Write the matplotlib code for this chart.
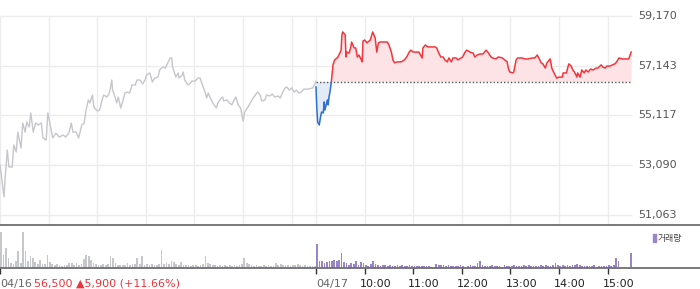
import matplotlib
matplotlib.use('Agg')
import matplotlib.pyplot as plt
from matplotlib.patches import Rectangle
import matplotlib.transforms as mtransforms
import numpy as np

# ---------------- data ----------------
SESSION = 390  # minutes per trading day (09:00-15:30)
base_price = 56500  # 04/16 close

prev_min = [0, 2, 5, 6, 9, 11, 15, 17, 20, 22,
            26, 28, 31, 33, 36, 38, 41, 44, 47, 51,
            53, 57, 59, 62, 65, 69, 73, 78, 81, 85,
            88, 90, 94, 97, 101, 104, 106, 109, 111, 114,
            116, 120, 123, 126, 128, 132, 135, 138, 139, 142,
            144, 146, 149, 152, 154, 157, 160, 163, 167, 169,
            173, 176, 179, 181, 185, 188, 191, 195, 197, 201,
            204, 207, 210, 212, 213, 217, 220, 221, 225, 226,
            228, 232, 234, 237, 241, 244, 247, 249, 253, 255,
            257, 259, 262, 264, 267, 269, 273, 275, 276, 280,
            283, 286, 289, 291, 294, 297, 300, 302, 306, 309,
            311, 315, 318, 321, 323, 327, 329, 333, 336, 339,
            343, 346, 349, 352, 354, 357, 360, 363, 366, 369,
            373, 375, 380, 386, 389, 390]
prev_price = [53100, 52570, 51800, 52400, 53710, 53020, 53020, 53910, 53630, 54440,
              53790, 54810, 54440, 54850, 54650, 55220, 54440, 54810, 54730, 54810,
              54200, 54120, 55220, 54730, 54200, 54400, 54240, 54320, 54240, 54400,
              54810, 54440, 54440, 54200, 54730, 54810, 55300, 55750, 55630, 55950,
              55460, 55300, 55340, 55750, 55950, 55870, 56030, 56560, 56150, 55870,
              55630, 55870, 55420, 55750, 56030, 56070, 56030, 56360, 56360, 56560,
              56560, 56400, 56560, 56770, 56850, 56480, 56640, 56680, 56970, 57090,
              57050, 57260, 57460, 57460, 57090, 56680, 56850, 56640, 56770, 56890,
              56560, 56360, 56400, 56520, 56520, 56640, 56640, 56440, 56070, 55830,
              56030, 55870, 55670, 55550, 55420, 55630, 55830, 55870, 55710, 55750,
              55630, 55550, 55750, 55870, 55550, 55420, 54890, 55260, 55460, 55630,
              55750, 55950, 56070, 55950, 55710, 55750, 55950, 55910, 55990, 55870,
              55910, 55830, 56070, 56240, 56280, 56150, 56240, 56070, 56150, 56030,
              56110, 56190, 56190, 56240, 56440, 56500]

today_min = [0, 1, 2, 4, 6, 7, 9, 10, 11, 14,
             15, 16, 17, 19, 20, 21, 23, 26, 27, 30,
             31, 32, 33, 36, 37, 38, 41, 43, 44, 47,
             49, 51, 53, 56, 57, 58, 60, 63, 64, 67,
             69, 70, 73, 75, 77, 79, 83, 88, 90, 93,
             95, 97, 100, 105, 109, 112, 115, 117, 120, 125,
             127, 131, 132, 135, 138, 143, 147, 149, 151, 154,
             157, 159, 162, 164, 167, 169, 173, 175, 179, 181,
             184, 186, 190, 194, 196, 199, 202, 206, 210, 212,
             216, 218, 222, 225, 230, 233, 236, 237, 239, 243,
             244, 247, 249, 254, 258, 262, 267, 270, 273, 275,
             278, 280, 283, 285, 289, 291, 292, 295, 297, 300,
             304, 305, 309, 310, 312, 315, 317, 319, 322, 323,
             326, 328, 331, 333, 336, 339, 342, 346, 348, 352,
             354, 357, 359, 363, 366, 369, 371, 374, 378, 381,
             386, 389]
today_price = [56280, 55420, 54850, 54730, 55140, 55260, 55220, 55670, 55340, 55750,
               55550, 55870, 56030, 56500, 56850, 57180, 57380, 57460, 57500, 57700,
               57780, 58400, 58520, 58400, 57500, 57700, 57660, 57910, 58110, 57870,
               57870, 57500, 57580, 57380, 57300, 58150, 58190, 58070, 58110, 58190,
               58400, 58520, 58270, 57700, 58070, 58110, 58110, 58110, 57990, 57700,
               57380, 57260, 57300, 57300, 57380, 57500, 57700, 57780, 57700, 57700,
               57700, 57460, 57870, 57990, 57910, 57910, 57910, 57870, 57700, 57500,
               57500, 57380, 57300, 57460, 57300, 57460, 57460, 57380, 57460, 57500,
               57700, 57780, 57700, 57660, 57500, 57580, 57620, 57620, 57780, 57700,
               57500, 57460, 57420, 57500, 57460, 57380, 57300, 57090, 56890, 56850,
               56890, 57380, 57460, 57460, 57420, 57420, 57460, 57460, 57580, 57460,
               57260, 57220, 57050, 57260, 57420, 57050, 56970, 56770, 56640, 56680,
               56680, 56850, 56850, 56970, 57220, 57130, 56970, 56890, 56680, 56850,
               56680, 56970, 56850, 56970, 56890, 57010, 56970, 57050, 57050, 57180,
               57090, 57050, 57130, 57130, 57180, 57220, 57300, 57460, 57420, 57420,
               57420, 57700]

# volume (thousand shares) per 3-minute bucket
VOL_BUCKET = 3
prev_vol = [36, 13, 20, 10, 5, 4, 7, 17, 5, 36,
            17, 7, 12, 10, 6, 4, 8, 4, 4, 13,
            6, 4, 3, 4, 3, 2, 3, 3, 5, 5,
            3, 5, 3, 4, 9, 13, 12, 8, 5, 4,
            3, 3, 4, 3, 4, 12, 10, 5, 3, 3,
            3, 3, 5, 3, 4, 4, 10, 4, 12, 3,
            4, 3, 4, 3, 3, 4, 18, 4, 5, 4,
            7, 6, 4, 3, 6, 3, 3, 3, 2, 3,
            3, 2, 3, 4, 12, 5, 4, 3, 3, 2,
            3, 2, 3, 2, 3, 2, 3, 2, 3, 4,
            10, 5, 4, 3, 2, 3, 2, 2, 3, 2,
            3, 2, 2, 5, 3, 4, 3, 3, 3, 2,
            3, 3, 4, 3, 2, 3, 2, 2, 2, 2]
today_vol = [24, 7, 7, 5, 6, 7, 7, 8, 7, 8,
             15, 6, 5, 3, 5, 4, 7, 3, 6, 5,
             3, 2, 4, 7, 4, 3, 2, 3, 3, 2,
             3, 2, 2, 3, 2, 3, 2, 2, 3, 2,
             2, 2, 2, 2, 2, 2, 2, 1, 1, 4,
             3, 3, 3, 2, 3, 2, 2, 2, 2, 3,
             2, 1, 2, 3, 2, 2, 5, 7, 3, 2,
             2, 2, 3, 2, 2, 2, 1, 3, 2, 2,
             2, 3, 2, 2, 2, 3, 2, 3, 2, 2,
             2, 2, 3, 2, 3, 2, 2, 3, 5, 3,
             2, 3, 2, 3, 2, 3, 3, 4, 3, 2,
             2, 2, 2, 2, 3, 1, 2, 2, 2, 2,
             3, 2, 3, 10, 7, 0, 0, 0, 0, 15]

price_ticks = [51063, 53090, 55117, 57143, 59170]
time_labels = ["10:00", "11:00", "12:00", "13:00", "14:00", "15:00"]
date_labels = ["04/16", "04/17"]
change_text = "56,500 \u25b25,900 (+11.66%)"
volume_label = "거래량"

# ---------------- styling ----------------
W, H = 700, 289
C_GRID = '#ececec'
C_GRAY_LINE = '#c6c6cb'
C_RED = '#f2353c'
C_BLUE = '#2d6fd2'
C_PINK_FILL = '#fde3e5'
C_BLUE_FILL = '#e3ebf8'
C_VOL_GRAY = '#c6c7cb'
C_VOL_PURPLE = '#9985c7'

plt.rcParams['font.family'] = ['DejaVu Sans', 'Noto Sans CJK KR']

fig = plt.figure(figsize=(W / 100, H / 100), dpi=100)
fig.patch.set_facecolor('white')


def fx(px):
    return px / W


def fy(py):
    return 1 - py / H


PLOT_RIGHT_PX = 632
XMAX = 2 * SESSION * W / PLOT_RIGHT_PX
px_per_price = 49.75 / 2026.75
y_top = price_ticks[-1] + 2 / px_per_price
y_bot = price_ticks[-1] - (225 - 16) / px_per_price

ax = fig.add_axes([0, fy(225), 1, fy(14) - fy(225)])
axv = fig.add_axes([0, fy(268), 1, fy(225) - fy(268)])

ax.set_xlim(0, XMAX)
ax.set_ylim(y_bot, y_top)
ax.set_axis_off()

prev_x = np.array(prev_min, dtype=float)
prev_y = np.array(prev_price, dtype=float)
tx = SESSION + np.array(today_min, dtype=float)
ty = np.array(today_price, dtype=float)

# grid
ax.hlines(price_ticks, 0, 2 * SESSION, colors=C_GRID, lw=1, zorder=0)
grid_x = [h * 60 for h in range(0, 7)] + [SESSION + h * 60 for h in range(0, 7)]
ax.vlines(grid_x, y_bot, price_ticks[-1], colors=C_GRID, lw=1, zorder=0)

# previous day line
ax.plot(prev_x, prev_y, color=C_GRAY_LINE, lw=1, zorder=3)

# today fills
ax.fill_between(tx, ty, base_price, where=ty >= base_price, interpolate=True,
                color=C_PINK_FILL, lw=0, zorder=1)
ax.fill_between(tx, ty, base_price, where=ty <= base_price, interpolate=True,
                color=C_BLUE_FILL, lw=0, zorder=1)

# reference dotted line
ax.hlines(base_price, SESSION, 2 * SESSION, colors='#555555',
          linestyles=(0, (1, 1.5)), lw=1, zorder=2)

# today line, red above / blue below the reference
red_line, = ax.plot(tx, ty, color=C_RED, lw=1.1, zorder=4)
red_line.set_clip_path(Rectangle((SESSION - 5, base_price), SESSION + 10, 10000,
                                 transform=ax.transData))
blue_line, = ax.plot(tx, ty, color=C_BLUE, lw=1.1, zorder=4)
blue_line.set_clip_path(Rectangle((SESSION - 5, base_price - 10000), SESSION + 10, 10000,
                                  transform=ax.transData))

# price labels on the right
trans_lbl = mtransforms.blended_transform_factory(fig.transFigure, ax.transData)
for v in price_ticks:
    ax.text(fx(638), v, f"{v:,}", transform=trans_lbl, ha='left', va='center',
            fontsize=8, color='#555555')

# volume panel
axv.set_xlim(0, XMAX)
axv.set_ylim(0, 43)
pv_x = (np.arange(len(prev_vol)) + 0.5) * VOL_BUCKET
tv_x = SESSION + (np.arange(len(today_vol)) + 0.5) * VOL_BUCKET
axv.bar(pv_x, prev_vol, width=2.1, color=C_VOL_GRAY, lw=0)
axv.bar(tv_x, today_vol, width=2.1, color=C_VOL_PURPLE, lw=0)
for s in ['left', 'right']:
    axv.spines[s].set_visible(False)
for s in ['top', 'bottom']:
    axv.spines[s].set_color('#6f6f6f')
    axv.spines[s].set_linewidth(1.3)
axv.set_yticks([])
vol_ticks = [0, SESSION] + [SESSION + h * 60 for h in range(1, 7)]
axv.set_xticks(vol_ticks)
axv.tick_params(axis='x', length=4, width=1, color='#333333', labelbottom=False)

# bottom labels
trans_b = mtransforms.blended_transform_factory(axv.transData, fig.transFigure)
y_lbl = fy(287)
axv.text(0, y_lbl, date_labels[0], transform=trans_b, ha='left', va='baseline',
         fontsize=8, color='#666666')
fig.text(fx(34), y_lbl, change_text, ha='left', va='baseline', fontsize=8,
         color='#e8363c')
axv.text(SESSION, y_lbl, date_labels[1], transform=trans_b, ha='left',
         va='baseline', fontsize=8, color='#666666')
trans_t = mtransforms.offset_copy(trans_b, fig=fig, x=-5, y=0, units='dots')
for i, lbl in enumerate(time_labels):
    axv.text(SESSION + (i + 1) * 60, y_lbl, lbl, transform=trans_t, ha='left',
             va='baseline', fontsize=8, color='#222222')

# volume legend
fig.patches.append(Rectangle((fx(653), fy(241.5)), 3 / W, 7.5 / H,
                             transform=fig.transFigure, color=C_VOL_PURPLE))
fig.text(fx(658), fy(238), volume_label, ha='left', va='center', fontsize=6.4,
         color='#444444', family=['Noto Sans CJK KR', 'DejaVu Sans'])

fig.savefig('out.png', dpi=100, facecolor='white')
